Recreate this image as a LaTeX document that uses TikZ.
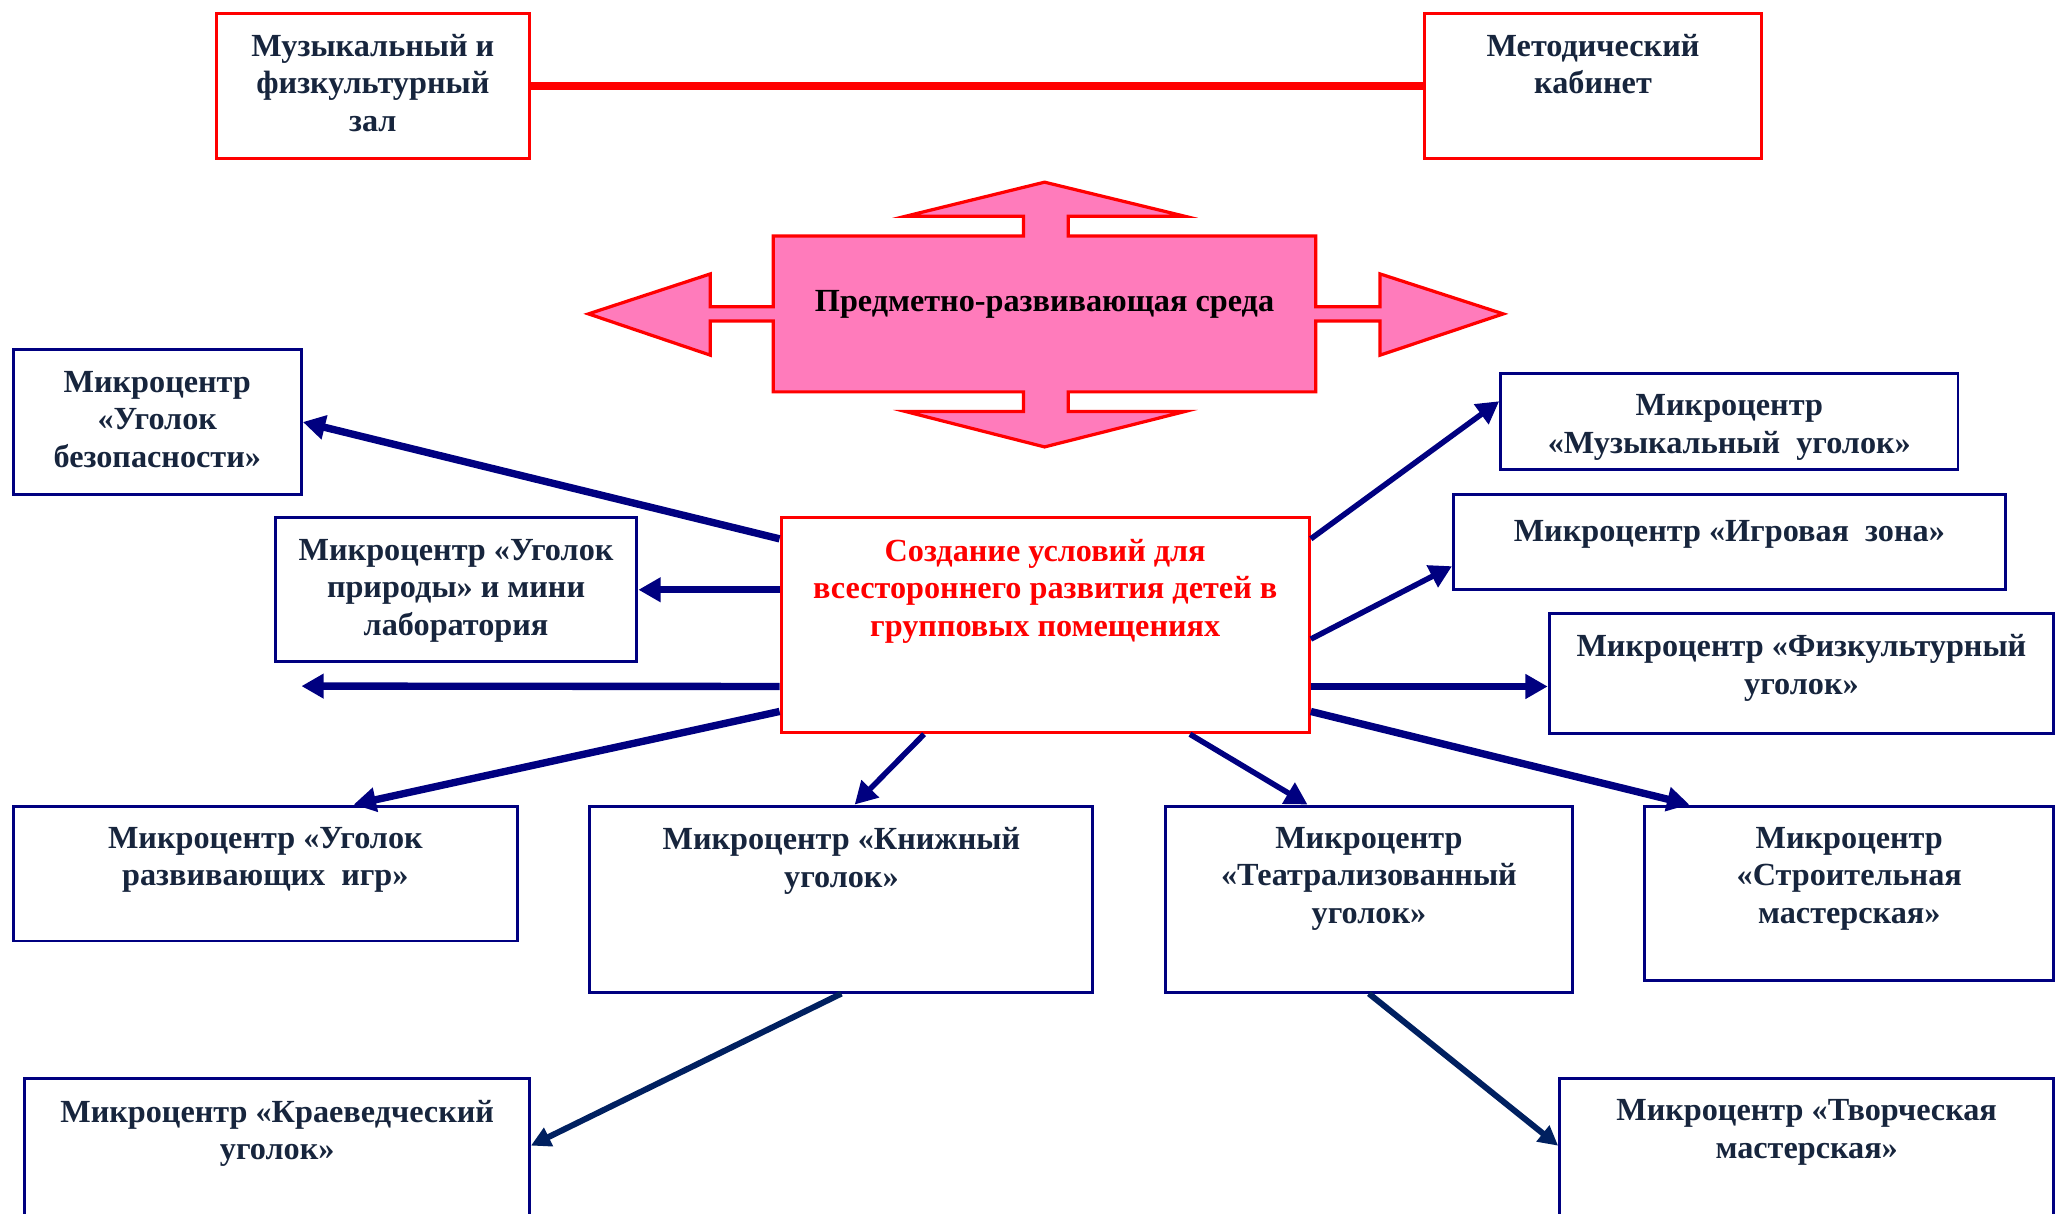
\documentclass[tikz,border=0pt]{standalone}
\usepackage{fontspec}
\setmainfont{Liberation Serif}
\usetikzlibrary{arrows.meta}
\definecolor{navy}{RGB}{0,0,128}
\definecolor{deepblue}{RGB}{0,32,96}
\definecolor{ink}{RGB}{23,37,61}
\definecolor{rose}{RGB}{255,123,187}
\definecolor{brightred}{RGB}{255,0,0}

\begin{document}
\begin{tikzpicture}[x=0.02cm,y=-0.02cm]
\tikzstyle{navybox}=[draw=navy,line width=1.3pt,inner sep=0pt];
\tikzstyle{redbox}=[draw=brightred,line width=1.4pt,inner sep=0pt];
\tikzstyle{lbl}=[align=center,inner sep=0pt,text=ink,font=\fontsize{14}{16.3}\selectfont\bfseries];
\tikzstyle{txt}=[lbl,anchor=north,yshift=-0.34cm,execute at begin node=\strut];
\tikzstyle{arr}=[color=navy,line width=3.2pt,-{Triangle[length=0.34cm,width=0.36cm]}];
\tikzstyle{thinarr}=[arr,line width=2.4pt];
\tikzstyle{lowarr}=[color=deepblue,line width=2.6pt,-{Triangle[length=0.3cm,width=0.3cm]}];

\useasboundingbox (0,0) rectangle (1568,926);

% top rooms
\node [redbox,minimum width=4.78cm,minimum height=2.22cm] (music) at (284.5,65.5) {};
\node [redbox,minimum width=5.14cm,minimum height=2.22cm] (method) at (1215.5,65.5) {};
\node [txt] (musict) at (music.north) {Музыкальный и\\ физкультурный\\ зал};
\node [txt] (methodt) at (method.north) {Методический\\ кабинет};
\draw [brightred,line width=3.2pt] (music.east) -- (method.west);

% the four-way arrow
\draw [brightred,line width=1.4pt,fill=rose] (797,139) -- (904,165) -- (815,165) -- (815,180)
  -- (1004,180) -- (1004,234) -- (1053,234) -- (1053,209) -- (1147,239.5) -- (1053,271)
  -- (1053,245) -- (1004,245) -- (1004,299) -- (815,299) -- (815,314) -- (904,314)
  -- (797,341) -- (691,314) -- (781,314) -- (781,299) -- (590,299) -- (590,245)
  -- (542,245) -- (542,271) -- (449,239.5) -- (542,209) -- (542,234) -- (590,234)
  -- (590,180) -- (781,180) -- (781,165) -- (691,165) -- cycle;
\node [lbl,text=black] (env) at (797,232) {Предметно-развивающая среда};

% centre
\node [redbox,minimum width=8.06cm,minimum height=3.28cm] (c) at (797.5,477) {};
\node [txt,text=brightred] (ct) at (c.north) {Создание условий для\\ всестороннего развития детей в\\ групповых помещениях};

% micro centres
\node [navybox,minimum width=4.4cm,minimum height=2.2cm] (b1) at (120,322) {};
\node [navybox,minimum width=5.52cm,minimum height=2.2cm] (b2) at (348,450) {};
\node [navybox,minimum width=6.98cm,minimum height=1.46cm] (b3) at (1319.5,321.5) {};
\node [navybox,minimum width=8.42cm,minimum height=1.46cm] (b4) at (1319.5,413.5) {};
\node [navybox,minimum width=7.7cm,minimum height=1.84cm] (b5) at (1374.5,514) {};
\node [navybox,minimum width=7.7cm,minimum height=2.06cm] (b6) at (202.5,666.5) {};
\node [navybox,minimum width=7.68cm,minimum height=2.84cm] (b7) at (642,686) {};
\node [navybox,minimum width=6.22cm,minimum height=2.84cm] (b8) at (1044.5,686) {};
\node [navybox,minimum width=6.24cm,minimum height=2.66cm] (b9) at (1411,681.5) {};
\node [navybox,minimum width=7.7cm,minimum height=2.18cm] (b10) at (211.5,877.5) {};
\node [navybox,minimum width=7.54cm,minimum height=2.18cm] (b11) at (1378.5,877.5) {};

\node [txt] (b1t) at (b1.north) {Микроцентр\\ «Уголок\\ безопасности»};
\node [txt] (b2t) at (b2.north) {Микроцентр «Уголок\\ природы» и мини\\ лаборатория};
\node [txt] (b3t) at (b3.north) {Микроцентр\\ «Музыкальный~ уголок»};
\node [txt] (b4t) at (b4.north) {Микроцентр «Игровая~ зона»};
\node [txt] (b5t) at (b5.north) {Микроцентр «Физкультурный\\ уголок»};
\node [txt] (b6t) at (b6.north) {Микроцентр «Уголок\\ развивающих~ игр»};
\node [txt] (b7t) at (b7.north) {Микроцентр «Книжный\\ уголок»};
\node [txt] (b8t) at (b8.north) {Микроцентр\\ «Театрализованный\\ уголок»};
\node [txt] (b9t) at (b9.north) {Микроцентр\\ «Строительная\\ мастерская»};
\node [txt] (b10t) at (b10.north) {Микроцентр «Краеведческий\\ уголок»};
\node [txt] (b11t) at (b11.north) {Микроцентр «Творческая\\ мастерская»};

\coordinate (free) at (230,523.5);

% arrows
\draw [arr] (c.162) -- (b1.east);
\draw [arr] (b2.east -| c.west) -- (b2.east);
\draw [arr] (c.193) -- (free);
\draw [arr] (c.198) -- (b6.38);
\draw [thinarr] (c.222) -- (b7.82);
\draw [thinarr] (c.323) -- (b8.123);
\draw [arr] (c.342) -- (b9.151);
\draw [arr] (c.347) -- (c.347 -| b5.west);
\draw [thinarr] (c.357) -- (b4.185);
\draw [thinarr] (c.18) -- (b3.175);
\draw [lowarr] (b7.south) -- (b10.1);
\draw [lowarr] (b8.south) -- (b11.179);
\end{tikzpicture}
\end{document}
